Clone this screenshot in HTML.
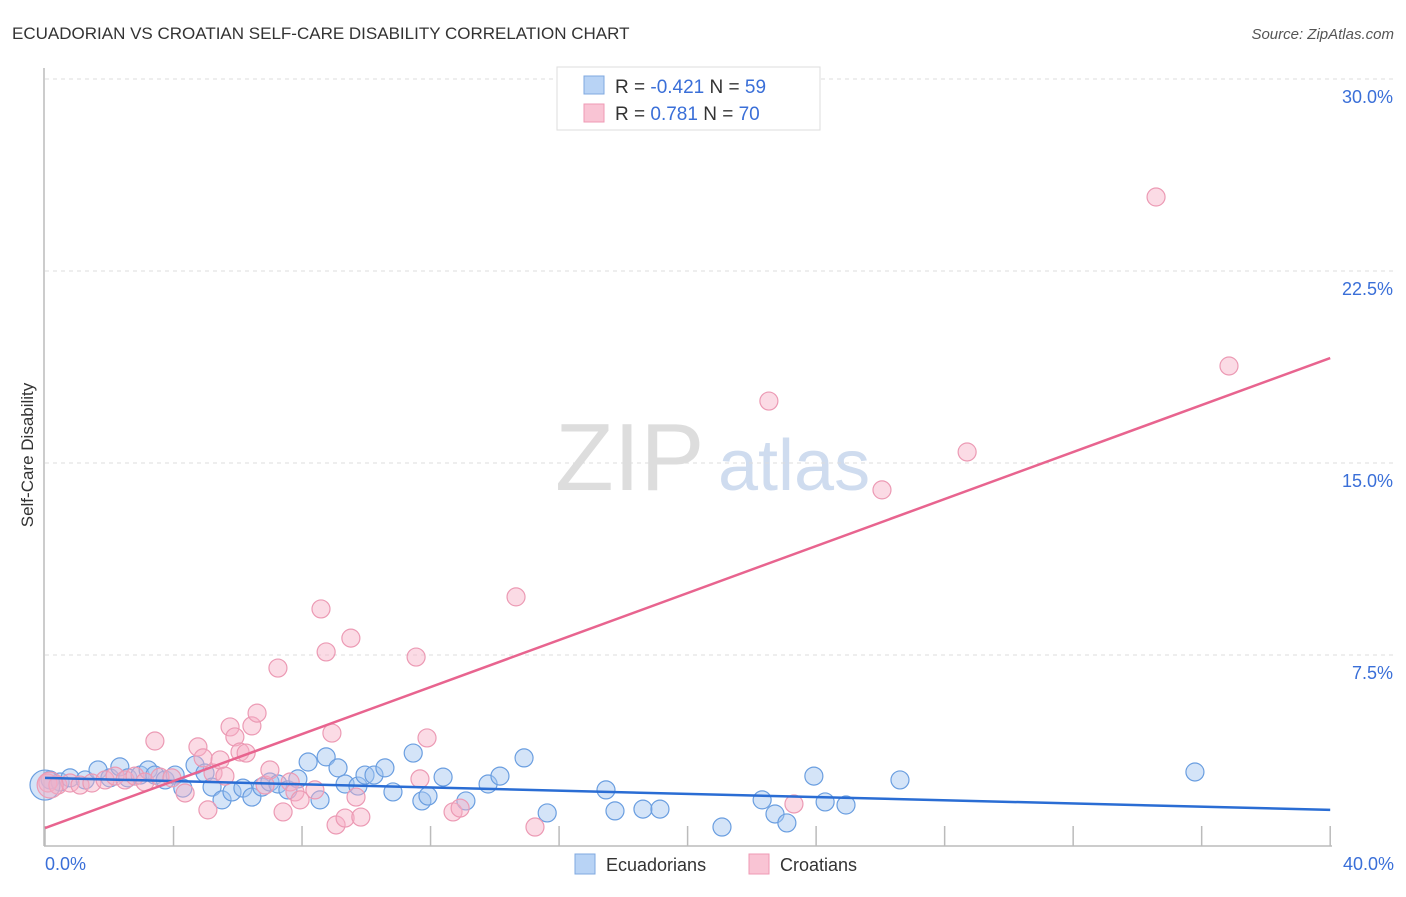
<!DOCTYPE html>
<html><head><meta charset="utf-8"><style>
body{margin:0;background:#fff;font-family:"Liberation Sans",sans-serif}
svg text{font-family:"Liberation Sans",sans-serif}
</style></head><body>
<svg id="c" width="1406" height="892">
<text x="12" y="39" font-size="17" fill="#333">ECUADORIAN VS CROATIAN SELF-CARE DISABILITY CORRELATION CHART</text>
<text x="1394" y="39" font-size="15" fill="#555" font-style="italic" text-anchor="end">Source: ZipAtlas.com</text>
<text x="33" y="455" font-size="17" fill="#333" transform="rotate(-90 33 455)" text-anchor="middle">Self-Care Disability</text>
<text x="555" y="490" font-size="96" fill="#ddd" font-family="Liberation Serif">ZIP</text>
<text x="718" y="490" font-size="72" fill="#cfdcef">atlas</text>
<g id="grid"></g><g id="pts"></g><g id="lines"></g>
<g>
<rect x="557" y="67" width="263" height="63" fill="#fff" stroke="#ddd"/>
<rect x="584" y="76" width="20" height="18" fill="#b8d3f5" stroke="#7fa8e0"/>
<rect x="584" y="104" width="20" height="18" fill="#f9c4d4" stroke="#ef9ab4"/>
<text x="615" y="93" font-size="19" fill="#333">R = <tspan fill="#3a6fd8">-0.421</tspan>   N = <tspan fill="#3a6fd8">59</tspan></text>
<text x="615" y="120" font-size="19" fill="#333">R =  <tspan fill="#3a6fd8"> 0.781</tspan>   N = <tspan fill="#3a6fd8">70</tspan></text>
</g>
<g>
<rect x="575" y="854" width="20" height="20" fill="#b8d3f5" stroke="#7fa8e0"/>
<text x="606" y="871" font-size="18" fill="#333">Ecuadorians</text>
<rect x="749" y="854" width="20" height="20" fill="#f9c4d4" stroke="#ef9ab4"/>
<text x="780" y="871" font-size="18" fill="#333">Croatians</text>
</g>
<text x="45" y="870" font-size="18" fill="#3a6fd8">0.0%</text>
<text x="1394" y="870" font-size="18" fill="#3a6fd8" text-anchor="end">40.0%</text>
</svg>
<script>
const yTicks=[7.5,15,22.5,30];
const xTicks=[0,4,8,12,16,20,24,28,32,36,40];
const blueX=[0.16,0.47,0.78,1.25,1.65,2.02,2.33,2.58,2.96,3.21,3.42,3.74,4.05,4.29,4.67,4.98,5.2,5.51,5.82,6.16,6.44,6.75,7.0,7.25,7.56,7.87,8.19,8.56,8.75,9.12,9.34,9.74,9.96,10.24,10.58,10.83,11.46,11.73,11.92,12.39,13.1,13.79,14.16,14.91,15.63,17.46,17.74,18.61,19.14,21.07,22.32,22.72,23.09,23.93,24.28,24.93,26.61,35.79,0.0];
const blueY=[2.62,2.54,2.7,2.62,3.01,2.7,3.13,2.7,2.81,3.01,2.81,2.62,2.81,2.3,3.2,2.89,2.34,1.84,2.15,2.3,1.95,2.34,2.54,2.46,2.23,2.66,3.32,1.84,3.52,3.09,2.46,2.38,2.81,2.81,3.09,2.15,3.67,1.8,1.99,2.73,1.8,2.46,2.77,3.48,1.33,2.23,1.41,1.48,1.48,0.78,1.84,1.29,0.94,2.77,1.76,1.64,2.62,2.93,2.42];
const pinkX=[0.09,0.4,0.78,1.09,1.46,1.87,2.18,2.49,2.8,3.11,3.42,3.58,3.95,4.36,4.76,4.92,5.07,5.23,5.45,5.6,5.76,5.91,6.07,6.26,6.44,6.6,6.85,7.0,7.25,7.41,7.63,7.78,7.94,8.4,8.59,8.75,8.93,9.06,9.34,9.52,9.68,9.83,11.55,11.67,11.89,12.7,12.92,14.66,15.25,22.53,23.31,26.05,28.7,34.58,36.85,0.16];
const pinkY=[2.5,2.42,2.5,2.42,2.5,2.62,2.77,2.62,2.77,2.54,4.14,2.73,2.7,2.11,3.91,3.48,1.45,2.89,3.4,2.77,4.69,4.3,3.71,3.67,4.73,5.23,2.42,3.01,6.99,1.37,2.54,2.15,1.84,2.23,9.3,7.62,4.45,0.86,1.13,8.16,1.95,1.17,7.42,2.66,4.26,1.37,1.52,9.77,0.78,17.42,1.68,13.95,15.43,25.39,18.79,2.42];
const blueTrend=[[0,2.7],[40,1.45]];
const pinkTrend=[[0,0.74],[40,19.1]];
const X=v=>45+v*32.13, Y=v=>847-v*25.6;
const ns='http://www.w3.org/2000/svg';
function mk(t,a,p){const e=document.createElementNS(ns,t);for(const k in a)e.setAttribute(k,a[k]);p.appendChild(e);return e;}
const g=document.getElementById('grid');
const ax=mk('line',{x1:44,y1:68,x2:44,y2:846,stroke:'#bbb','stroke-width':1.5},g);


const bx=mk('line',{x1:44,y1:846,x2:1332,y2:846,stroke:'#bbb','stroke-width':1.5},g);


yTicks.forEach(t=>{
const l=mk('line',{x1:45,x2:1394,y1:Y(t),y2:Y(t),stroke:'#ddd','stroke-dasharray':'4,4'},g);


const tx=mk('text',{x:1393,y:Y(t)+24,'font-size':18,fill:'#3a6fd8','text-anchor':'end'},g);
tx.textContent=t.toFixed(1)+'%';


});
xTicks.forEach(t=>{
const l=mk('line',{x1:X(t),x2:X(t),y1:826,y2:846,stroke:'#bbb','stroke-width':1.5},g);


});
const p=document.getElementById('pts');
blueX.forEach((v,i)=>{
const c=mk('circle',{cx:X(v),cy:Y(blueY[i]),r:(i==blueX.length-1?15:9),fill:'rgba(160,196,240,0.45)',stroke:'#6a9ee0','stroke-width':1.2},p);


});
pinkX.forEach((v,i)=>{
const c=mk('circle',{cx:X(v),cy:Y(pinkY[i]),r:(i==pinkX.length-1?13:9),fill:'rgba(246,176,198,0.45)',stroke:'#ec9ab4','stroke-width':1.2},p);


});
const L=document.getElementById('lines');
const b=mk('line',{x1:X(blueTrend[0][0]),y1:Y(blueTrend[0][1]),x2:X(blueTrend[1][0]),y2:Y(blueTrend[1][1]),stroke:'#2a6dd4','stroke-width':2.5},L);


const q=mk('line',{x1:X(pinkTrend[0][0]),y1:Y(pinkTrend[0][1]),x2:X(pinkTrend[1][0]),y2:Y(pinkTrend[1][1]),stroke:'#e8648f','stroke-width':2.5},L);


</script>
</body></html>
